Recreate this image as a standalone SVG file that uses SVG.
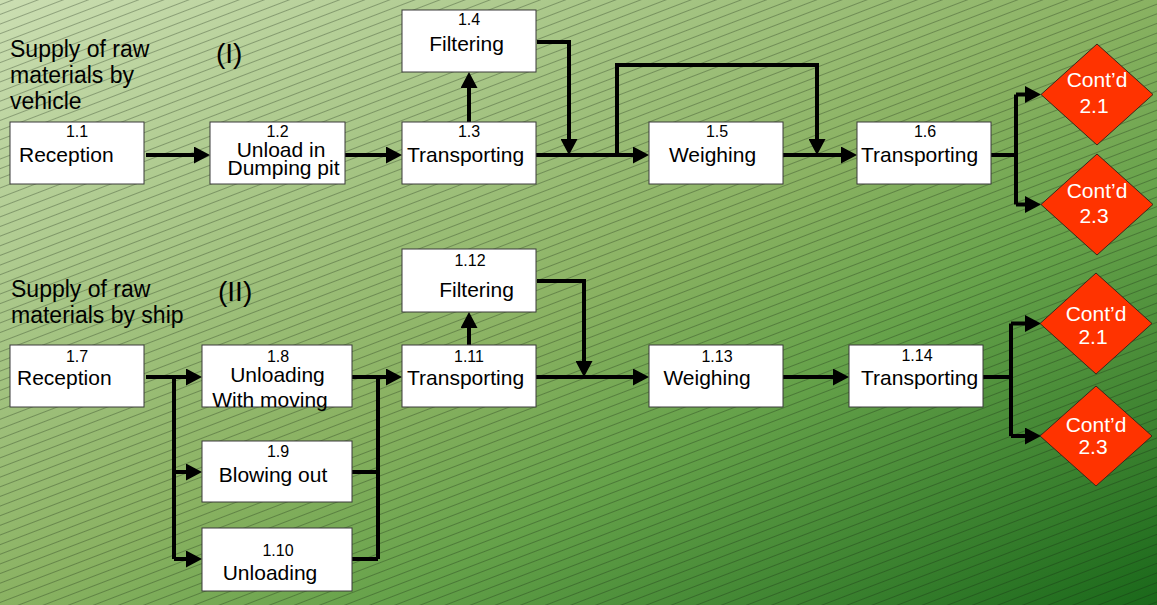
<svg xmlns="http://www.w3.org/2000/svg" width="1157" height="605" viewBox="0 0 1157 605">
  <defs>
    <linearGradient id="bg" x1="0" y1="0" x2="1" y2="1">
      <stop offset="0" stop-color="#cbdeb2"/>
      <stop offset="0.5" stop-color="#8ab262"/>
      <stop offset="0.66" stop-color="#66a24a"/>
      <stop offset="1" stop-color="#1a681a"/>
    </linearGradient>
    <pattern id="hatch" patternUnits="userSpaceOnUse" width="40" height="9" patternTransform="rotate(-21)">
      <line x1="0" y1="4.5" x2="40" y2="4.5" stroke="#14240f" stroke-opacity="0.45" stroke-width="0.7"/>
    </pattern>
    <marker id="arrow" markerUnits="userSpaceOnUse" markerWidth="17" markerHeight="17" refX="1" refY="8.5" orient="auto">
      <path d="M0,0 L16,8.5 L0,17 z" fill="#000"/>
    </marker>
    <style>
      .box { fill: #ffffff; stroke: #3a3a3a; stroke-width: 1; }
      .dia { fill: #ff3300; stroke: #3a2a1a; stroke-width: 1; }
      .num { font-family: "Liberation Sans", Arial, sans-serif; font-size: 16px; fill: #000; text-anchor: middle; }
      .lbl { font-family: "Liberation Sans", Arial, sans-serif; font-size: 21px; fill: #000; }
      .mid { text-anchor: middle; }
      .dtx { font-family: "Liberation Sans", Arial, sans-serif; font-size: 21px; fill: #ffffff; text-anchor: middle; }
      .cap { font-family: "Liberation Sans", Arial, sans-serif; font-size: 23px; fill: #000; }
      .roman { font-family: "Liberation Sans", Arial, sans-serif; font-size: 28px; fill: #000; }
      .wire { fill: none; stroke: #000; stroke-width: 4; }
      .wire-a { fill: none; stroke: #000; stroke-width: 4; marker-end: url(#arrow); }
    </style>
  </defs>

  <!-- background -->
  <rect x="0" y="0" width="1157" height="605" fill="url(#bg)"/>
  <rect x="0" y="0" width="1157" height="605" fill="url(#hatch)"/>

  <!-- section captions -->
  <g id="caption-vehicle">
    <text class="cap" x="10" y="57">Supply of raw</text>
    <text class="cap" x="10" y="83">materials by</text>
    <text class="cap" x="10" y="109">vehicle</text>
    <text class="roman" x="216" y="63">(I)</text>
  </g>
  <g id="caption-ship">
    <text class="cap" x="11" y="297">Supply of raw</text>
    <text class="cap" x="11" y="323">materials by ship</text>
    <text class="roman" x="218" y="301">(II)</text>
  </g>

  <!-- connectors -->
  <g id="connectors">
    <!-- line I -->
    <path class="wire-a" d="M146,155 H195"/>
    <path class="wire-a" d="M345,155 H387"/>
    <path class="wire-a" d="M469,122 V87"/>
    <path class="wire-a" d="M537,42 H569 V140"/>
    <path class="wire-a" d="M536,155 H634"/>
    <path class="wire-a" d="M617,155 V65 H817 V140"/>
    <path class="wire-a" d="M783,155 H842"/>
    <path class="wire" d="M991,155 H1016"/>
    <path class="wire" d="M1016,94.5 V204.5"/>
    <path class="wire-a" d="M1016,94.5 H1026"/>
    <path class="wire-a" d="M1016,204.5 H1026"/>
    <!-- line II -->
    <path class="wire-a" d="M146,377 H187"/>
    <path class="wire" d="M174,377 V559"/>
    <path class="wire-a" d="M174,472 H187"/>
    <path class="wire-a" d="M174,559 H187"/>
    <path class="wire-a" d="M352,377 H387"/>
    <path class="wire" d="M378,377 V559"/>
    <path class="wire" d="M352,472 H378"/>
    <path class="wire" d="M352,559 H378"/>
    <path class="wire-a" d="M469,345 V327"/>
    <path class="wire-a" d="M537,281 H584 V362"/>
    <path class="wire-a" d="M536,377 H634"/>
    <path class="wire-a" d="M783,377 H834"/>
    <path class="wire" d="M983,377 H1011"/>
    <path class="wire" d="M1011,323.5 V436"/>
    <path class="wire-a" d="M1011,323.5 H1026"/>
    <path class="wire-a" d="M1011,436 H1026"/>
  </g>

  <!-- line I nodes -->
  <g id="n1-1">
    <rect class="box" x="10" y="122" width="134" height="62"/>
    <text class="num" x="77" y="137">1.1</text>
    <text class="lbl" x="19" y="162">Reception</text>
  </g>
  <g id="n1-2">
    <rect class="box" x="210" y="122" width="135" height="62"/>
    <text class="num" x="277.5" y="137">1.2</text>
    <text class="lbl mid" x="281" y="157">Unload in</text>
    <text class="lbl mid" x="283.5" y="175">Dumping pit</text>
  </g>
  <g id="n1-3">
    <rect class="box" x="402" y="122" width="134" height="62"/>
    <text class="num" x="469" y="137">1.3</text>
    <text class="lbl" x="407" y="162">Transporting</text>
  </g>
  <g id="n1-4">
    <rect class="box" x="402" y="10" width="134" height="62"/>
    <text class="num" x="469" y="25">1.4</text>
    <text class="lbl mid" x="466.5" y="51">Filtering</text>
  </g>
  <g id="n1-5">
    <rect class="box" x="649" y="122" width="134" height="62"/>
    <text class="num" x="717" y="137">1.5</text>
    <text class="lbl mid" x="712.5" y="162">Weighing</text>
  </g>
  <g id="n1-6">
    <rect class="box" x="857" y="122" width="134" height="62"/>
    <text class="num" x="925" y="137">1.6</text>
    <text class="lbl" x="861" y="162">Transporting</text>
  </g>
  <g id="to-2-1-a">
    <polygon class="dia" points="1097,44 1153,94.5 1097,145 1041,94.5"/>
    <text class="dtx" x="1097" y="87">Cont’d</text>
    <text class="dtx" x="1094" y="113">2.1</text>
  </g>
  <g id="to-2-3-a">
    <polygon class="dia" points="1097,154 1153,204.5 1097,255 1041,204.5"/>
    <text class="dtx" x="1097" y="198">Cont’d</text>
    <text class="dtx" x="1094" y="223">2.3</text>
  </g>

  <!-- line II nodes -->
  <g id="n1-7">
    <rect class="box" x="10" y="345" width="134" height="62"/>
    <text class="num" x="77" y="362">1.7</text>
    <text class="lbl" x="17" y="385">Reception</text>
  </g>
  <g id="n1-8">
    <rect class="box" x="202" y="345" width="150" height="62"/>
    <text class="num" x="278" y="362">1.8</text>
    <text class="lbl mid" x="277.5" y="382">Unloading</text>
    <text class="lbl mid" x="270" y="407">With moving</text>
  </g>
  <g id="n1-9">
    <rect class="box" x="202" y="441" width="150" height="61"/>
    <text class="num" x="278" y="457">1.9</text>
    <text class="lbl mid" x="273" y="482">Blowing out</text>
  </g>
  <g id="n1-10">
    <rect class="box" x="202" y="528" width="150" height="63"/>
    <text class="num" x="278" y="556">1.10</text>
    <text class="lbl mid" x="270" y="580">Unloading</text>
  </g>
  <g id="n1-11">
    <rect class="box" x="402" y="345" width="134" height="62"/>
    <text class="num" x="469" y="362">1.11</text>
    <text class="lbl" x="407" y="385">Transporting</text>
  </g>
  <g id="n1-12">
    <rect class="box" x="402" y="249" width="134" height="63"/>
    <text class="num" x="470" y="266">1.12</text>
    <text class="lbl mid" x="476.5" y="297">Filtering</text>
  </g>
  <g id="n1-13">
    <rect class="box" x="649" y="345" width="134" height="62"/>
    <text class="num" x="717" y="362">1.13</text>
    <text class="lbl mid" x="707" y="385">Weighing</text>
  </g>
  <g id="n1-14">
    <rect class="box" x="849" y="345" width="134" height="62"/>
    <text class="num" x="917" y="361">1.14</text>
    <text class="lbl" x="861" y="385">Transporting</text>
  </g>
  <g id="to-2-1-b">
    <polygon class="dia" points="1096,273 1152,323.5 1096,374 1040,323.5"/>
    <text class="dtx" x="1096" y="321">Cont’d</text>
    <text class="dtx" x="1093" y="344">2.1</text>
  </g>
  <g id="to-2-3-b">
    <polygon class="dia" points="1096,386 1152,436 1096,486 1040,436"/>
    <text class="dtx" x="1096" y="432">Cont’d</text>
    <text class="dtx" x="1093" y="454">2.3</text>
  </g>
</svg>
